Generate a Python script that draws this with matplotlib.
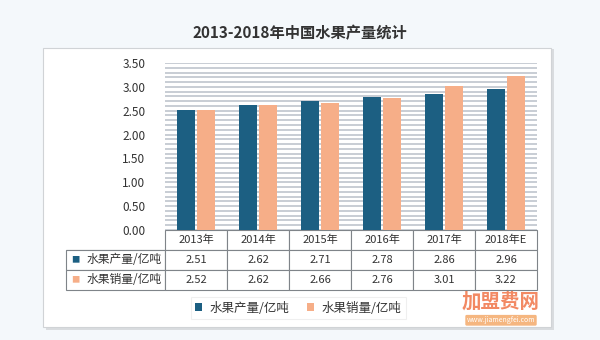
import numpy as np
import matplotlib
matplotlib.use("Agg")
import matplotlib.pyplot as plt
from matplotlib.patches import Rectangle, Patch

plt.rcParams['font.family'] = ['Noto Sans CJK SC', 'DejaVu Sans']

# ── DATA ─────────────────────────────────────────────
years = ["2013年", "2014年", "2015年", "2016年", "2017年", "2018年E"]
production = [2.51, 2.62, 2.71, 2.78, 2.86, 2.96]
sales = [2.52, 2.62, 2.66, 2.76, 3.01, 3.22]
series_names = ["水果产量/亿吨", "水果销量/亿吨"]
title = "2013-2018年中国水果产量统计"

blue = "#1c5f82"
orange = "#f6ae88"
text_color = "#333333"

# ── FIGURE AND PANEL ─────────────────────────────────
fig = plt.figure(figsize=(6, 3.4), dpi=100)
fig.patch.set_facecolor("#f4f8fb")

# shadowed white panel on a background axes
bg = fig.add_axes([0, 0, 1, 1], zorder=-5)
bg.set_xlim(0, 1)
bg.set_ylim(0, 1)
bg.axis("off")
bg.add_patch(Rectangle((0.076, 0.030), 0.847, 0.826, facecolor="#d9dcdf", edgecolor="none"))
bg.add_patch(Rectangle((0.071, 0.038), 0.847, 0.821, facecolor="white",
                       edgecolor="#d0d3d6", lw=0.8))

fig.text(0.5, 0.903, title, ha="center", va="center", fontsize=11,
         fontweight="bold", color="#333333")

ax = fig.add_axes([0.275, 0.3235, 0.62, 0.4912], zorder=1)
ax.set_facecolor("white")

# ── BARS ─────────────────────────────────────────────
x = np.arange(len(years))
w = 0.29
ax.bar(x - 0.155, production, width=w, color=blue, zorder=3)
ax.bar(x + 0.155, sales, width=w, color=orange, zorder=3)

ax.set_xlim(-0.5, len(years) - 0.5)
ax.set_ylim(0, 3.5)
ax.set_yticks(np.arange(0, 3.51, 0.5))
ax.set_yticks(np.arange(0, 3.51, 0.1), minor=True)
ax.set_yticklabels([f"{v:.2f}" for v in np.arange(0, 3.51, 0.5)], fontsize=8.5, color=text_color)
ax.grid(axis="y", which="both", color="#c8cdd4", lw=1.4, zorder=0)
ax.tick_params(axis="y", which="both", length=0, pad=14)
ax.set_xticks([])
for s in ax.spines.values():
    s.set_visible(False)

# ── DATA TABLE ───────────────────────────────────────
cell_text = [[""] + [f"{v:.2f}" for v in production],
             [""] + [f"{v:.2f}" for v in sales]]
label_w = 99 / 372
tbl = ax.table(cellText=cell_text, colLabels=[""] + years,
               colWidths=[label_w] + [1 / 6] * 6, cellLoc="center",
               bbox=[-label_w, -0.359, 1 + label_w, 0.359])
tbl.auto_set_font_size(False)
tbl.set_fontsize(8)
for (r, c), cell in tbl.get_celld().items():
    cell.set_edgecolor("#7f8489")
    cell.set_linewidth(0.8)
    cell.set_facecolor("white")
    cell.get_text().set_color(text_color)
tbl[0, 0].visible_edges = "B"
for i, name in enumerate(series_names):
    cell = tbl[i + 1, 0]
    cell.get_text().set_text(name)
    cell.get_text().set_fontsize(8.5)
    cell.get_text().set_horizontalalignment("right")
    cell.PAD = 0.03

# colour keys in the table label column
for i, col in enumerate([blue, orange]):
    ax.text(-label_w + 0.014, -0.359 * (1.5 + i) / 3, "■", color=col, fontsize=6,
            ha="left", va="center", transform=ax.transAxes, zorder=5)

# ── LEGEND ───────────────────────────────────────────
handles = [Patch(facecolor=blue), Patch(facecolor=orange)]
leg = fig.legend(handles, series_names, loc="center", bbox_to_anchor=(0.497, 0.094),
                 ncol=2, fontsize=9, frameon=True, fancybox=False,
                 handlelength=0.55, handleheight=0.55, handletextpad=0.6,
                 columnspacing=1.4, borderpad=0.35)
leg.get_frame().set_edgecolor("#ececec")
leg.get_frame().set_linewidth(0.8)
for t in leg.get_texts():
    t.set_color(text_color)

# ── WATERMARK ────────────────────────────────────────
fig.text(0.835, 0.113, "加盟费网", ha="center", va="center", fontsize=14,
         fontweight="bold", color="#f07448", alpha=0.85)
fig.text(0.835, 0.058, "www.jiamengfei.com", ha="center", va="center", fontsize=5,
         color="white", bbox=dict(boxstyle="round,pad=0.2", facecolor="#f4a96a",
                                  edgecolor="none", alpha=0.85))

fig.savefig("out.png", dpi=100, facecolor=fig.get_facecolor())
